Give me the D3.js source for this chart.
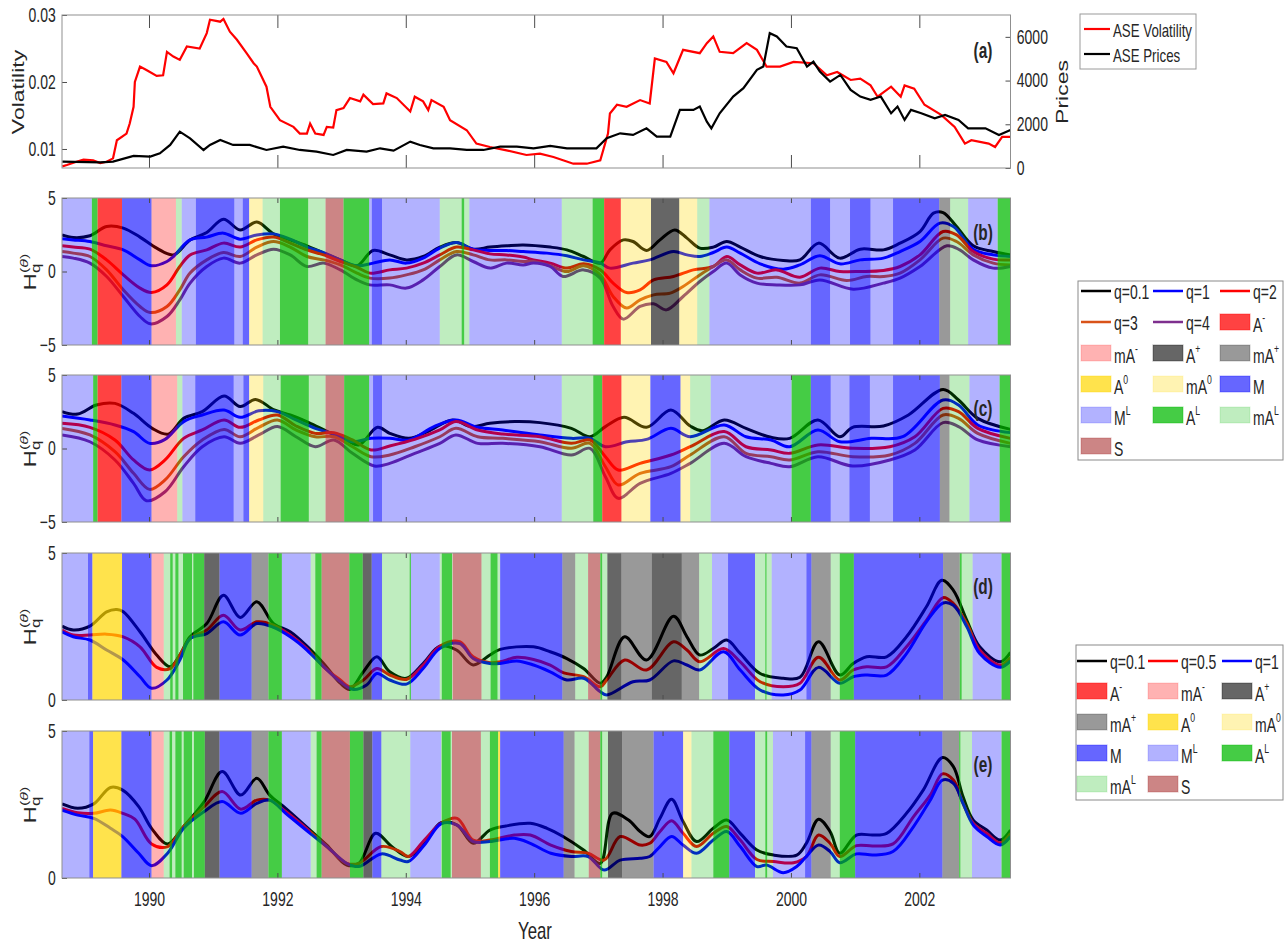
<!DOCTYPE html>
<html>
<head>
<meta charset="utf-8">
<script src="https://cdn.jsdelivr.net/npm/d3@7"></script>
<style>
  body { margin: 0; background: #fff; }
  svg { display: block; }
  text { font-family: "Liberation Sans", Arial, sans-serif; fill: #262626; }
</style>
</head>
<body>
<svg id="fig" width="1285" height="943"></svg>
<script>
// ---------- data ----------
const yearMin = 1988.645, yearMax = 2003.42;
const yearTicks = [1990, 1992, 1994, 1996, 1998, 2000, 2002];

// regime categories: key, base letters, superscript
const catKeys = ['Am', 'mAm', 'Ap', 'mAp', 'A0', 'mA0', 'M', 'ML', 'AL', 'mAL', 'S'];
const catBase = ['A', 'mA', 'A', 'mA', 'A', 'mA', 'M', 'M', 'A', 'mA', 'S'];
const catSup  = ['-', '-', '+', '+', '0', '0', '', 'L', 'L', 'L', ''];

// ASE volatility and prices, panel (a)
const volatility = [[1988.65,0.0074],[1988.72,0.0076],[1988.87,0.0081],[1988.98,0.0084],[1989.13,0.0083],[1989.24,0.0079],[1989.34,0.0081],[1989.44,0.0086],[1989.50,0.0113],[1989.65,0.0123],[1989.70,0.0138],[1989.76,0.0163],[1989.78,0.0200],[1989.86,0.0223],[1989.96,0.0218],[1990.12,0.0209],[1990.22,0.0210],[1990.28,0.0245],[1990.38,0.0238],[1990.48,0.0233],[1990.59,0.0253],[1990.79,0.0250],[1990.90,0.0273],[1990.95,0.0293],[1991.11,0.0290],[1991.16,0.0294],[1991.26,0.0275],[1991.37,0.0263],[1991.52,0.0243],[1991.63,0.0228],[1991.68,0.0223],[1991.83,0.0193],[1991.89,0.0163],[1992.04,0.0143],[1992.25,0.0133],[1992.35,0.0123],[1992.46,0.0123],[1992.51,0.0138],[1992.59,0.0123],[1992.72,0.0121],[1992.77,0.0133],[1992.87,0.0132],[1992.92,0.0158],[1993.03,0.0161],[1993.13,0.0176],[1993.29,0.0171],[1993.34,0.0181],[1993.49,0.0167],[1993.65,0.0168],[1993.70,0.0183],[1993.86,0.0176],[1994.07,0.0156],[1994.14,0.0178],[1994.27,0.0171],[1994.35,0.0158],[1994.40,0.0173],[1994.59,0.0163],[1994.69,0.0143],[1994.95,0.0128],[1995.10,0.0108],[1995.31,0.0103],[1995.57,0.0098],[1995.88,0.0091],[1996.09,0.0093],[1996.30,0.0088],[1996.61,0.0078],[1996.82,0.0078],[1997.03,0.0083],[1997.15,0.0123],[1997.18,0.0153],[1997.29,0.0166],[1997.44,0.0163],[1997.65,0.0173],[1997.80,0.0168],[1997.88,0.0235],[1998.06,0.0230],[1998.17,0.0213],[1998.32,0.0248],[1998.58,0.0243],[1998.69,0.0258],[1998.79,0.0268],[1998.89,0.0245],[1999.10,0.0243],[1999.31,0.0258],[1999.47,0.0248],[1999.62,0.0223],[1999.83,0.0223],[2000.04,0.0230],[2000.35,0.0228],[2000.56,0.0210],[2000.72,0.0215],[2000.93,0.0203],[2001.08,0.0205],[2001.24,0.0195],[2001.35,0.0178],[2001.56,0.0193],[2001.71,0.0178],[2001.77,0.0195],[2001.92,0.0190],[2002.08,0.0166],[2002.34,0.0151],[2002.55,0.0133],[2002.71,0.0108],[2002.81,0.0113],[2003.08,0.0108],[2003.18,0.0103],[2003.29,0.0118],[2003.42,0.0118]];
const prices = [[1988.65,290],[1989.24,260],[1989.44,290],[1989.76,550],[1990.02,520],[1990.17,670],[1990.33,1054],[1990.48,1664],[1990.64,1358],[1990.85,825],[1990.95,1054],[1991.11,1283],[1991.31,1054],[1991.57,1054],[1991.83,825],[1992.09,977],[1992.35,825],[1992.61,748],[1992.87,596],[1993.08,825],[1993.39,748],[1993.60,901],[1993.81,794],[1994.07,1206],[1994.22,1054],[1994.43,901],[1994.69,901],[1994.95,825],[1995.21,825],[1995.47,977],[1995.73,977],[1995.99,901],[1996.25,1008],[1996.51,901],[1996.77,901],[1996.97,901],[1997.13,1358],[1997.34,1588],[1997.54,1512],[1997.75,1817],[1997.91,1435],[1998.12,1435],[1998.27,2657],[1998.48,2657],[1998.58,2810],[1998.69,2123],[1998.76,1817],[1998.89,2504],[1999.10,3268],[1999.26,3650],[1999.47,4489],[1999.57,4642],[1999.67,6169],[1999.78,6016],[1999.93,5558],[2000.09,5482],[2000.25,4642],[2000.35,4871],[2000.45,4413],[2000.61,3955],[2000.77,4260],[2000.93,3573],[2001.08,3268],[2001.24,3115],[2001.40,3268],[2001.56,2504],[2001.66,2810],[2001.77,2199],[2001.87,2657],[2002.03,2504],[2002.24,2275],[2002.40,2428],[2002.61,2199],[2002.76,1817],[2003.03,1817],[2003.24,1512],[2003.42,1741]];

// regime bands: [start year, category]; each band ends where the next begins
const bandsB = [[1988.645,'ML'],[1989.11,'AL'],[1989.20,'Am'],[1989.58,'M'],[1990.04,'mAm'],[1990.42,'mAL'],[1990.51,'ML'],[1990.73,'M'],[1991.33,'ML'],[1991.46,'M'],[1991.56,'mA0'],[1991.77,'mAL'],[1992.04,'AL'],[1992.48,'mAL'],[1992.75,'S'],[1993.03,'AL'],[1993.43,'ML'],[1993.47,'M'],[1993.63,'ML'],[1994.53,'mAL'],[1994.87,'AL'],[1994.91,'mAL'],[1994.99,'ML'],[1996.43,'mAL'],[1996.91,'AL'],[1997.09,'Am'],[1997.35,'mA0'],[1997.82,'Ap'],[1998.26,'mA0'],[1998.54,'mAL'],[1998.73,'ML'],[2000.31,'M'],[2000.61,'ML'],[2000.92,'M'],[2001.24,'ML'],[2001.59,'M'],[2002.31,'mAp'],[2002.48,'mAL'],[2002.76,'ML'],[2003.22,'AL']];
const bandsC = [[1988.645,'ML'],[1989.13,'AL'],[1989.20,'Am'],[1989.57,'M'],[1990.04,'mAm'],[1990.44,'mAL'],[1990.52,'ML'],[1990.72,'M'],[1991.32,'ML'],[1991.47,'M'],[1991.56,'mA0'],[1991.78,'mAL'],[1992.05,'AL'],[1992.49,'mAL'],[1992.75,'S'],[1993.04,'AL'],[1993.43,'ML'],[1993.49,'M'],[1993.63,'ML'],[1996.43,'mAL'],[1996.92,'AL'],[1997.06,'Am'],[1997.36,'mA0'],[1997.81,'M'],[1998.28,'mA0'],[1998.43,'mAL'],[1998.75,'ML'],[2000.01,'AL'],[2000.31,'M'],[2000.62,'ML'],[2000.91,'M'],[2001.23,'ML'],[2001.59,'M'],[2002.32,'mAp'],[2002.47,'mAL'],[2002.78,'ML'],[2003.25,'AL']];
const bandsD = [[1988.645,'ML'],[1989.05,'M'],[1989.12,'A0'],[1989.58,'M'],[1990.04,'mAm'],[1990.23,'mAL'],[1990.33,'AL'],[1990.37,'mAL'],[1990.41,'AL'],[1990.46,'mAL'],[1990.53,'AL'],[1990.67,'mAL'],[1990.69,'AL'],[1990.86,'Ap'],[1991.10,'M'],[1991.60,'mAp'],[1991.86,'AL'],[1992.07,'ML'],[1992.52,'mAL'],[1992.59,'AL'],[1992.69,'S'],[1993.12,'AL'],[1993.33,'Ap'],[1993.47,'M'],[1993.63,'mAL'],[1994.06,'AL'],[1994.08,'ML'],[1994.53,'mAL'],[1994.56,'AL'],[1994.72,'mAL'],[1994.73,'S'],[1995.18,'mAL'],[1995.32,'AL'],[1995.43,'mAL'],[1995.47,'M'],[1996.44,'mAp'],[1996.64,'mAL'],[1996.84,'S'],[1997.03,'AL'],[1997.06,'mAL'],[1997.14,'Ap'],[1997.36,'mAp'],[1997.83,'Ap'],[1998.30,'mAp'],[1998.57,'mAL'],[1998.77,'ML'],[1999.02,'M'],[1999.44,'mAL'],[1999.60,'AL'],[1999.62,'mAL'],[1999.70,'ML'],[2000.24,'M'],[2000.32,'mAp'],[2000.62,'mAL'],[2000.76,'AL'],[2000.98,'M'],[2002.37,'mAp'],[2002.63,'AL'],[2002.66,'mAL'],[2002.83,'ML'],[2003.28,'AL']];
const bandsE = [[1988.645,'ML'],[1989.07,'M'],[1989.13,'A0'],[1989.57,'M'],[1990.04,'mAm'],[1990.23,'mAL'],[1990.32,'AL'],[1990.36,'mAL'],[1990.41,'AL'],[1990.51,'mAL'],[1990.54,'AL'],[1990.67,'mAL'],[1990.70,'AL'],[1990.87,'Ap'],[1991.10,'M'],[1991.60,'mAp'],[1991.86,'AL'],[1992.07,'ML'],[1992.52,'mAL'],[1992.61,'AL'],[1992.69,'S'],[1993.13,'AL'],[1993.34,'Ap'],[1993.48,'M'],[1993.62,'mAL'],[1994.07,'ML'],[1994.55,'mAL'],[1994.56,'AL'],[1994.70,'mAL'],[1994.72,'S'],[1995.17,'mAL'],[1995.31,'AL'],[1995.44,'A0'],[1995.47,'M'],[1996.46,'mAp'],[1996.63,'mAL'],[1996.85,'S'],[1997.03,'AL'],[1997.06,'mAL'],[1997.15,'Ap'],[1997.37,'mAp'],[1997.86,'M'],[1998.32,'mA0'],[1998.45,'mAL'],[1998.79,'AL'],[1999.04,'M'],[1999.44,'mAL'],[1999.60,'AL'],[1999.63,'mAL'],[1999.72,'ML'],[2000.22,'M'],[2000.32,'mAp'],[2000.62,'mAL'],[2000.76,'AL'],[2001.00,'M'],[2002.36,'mAp'],[2002.62,'AL'],[2002.64,'mAL'],[2002.82,'ML'],[2003.28,'AL']];

// generalized Hurst exponents, panel (b)
const hB01 = [[1988.645,2.49],[1988.82,2.31],[1989.08,2.43],[1989.34,3.06],[1989.60,2.95],[1989.86,2.34],[1990.12,1.59],[1990.38,1.13],[1990.64,2.15],[1990.90,2.65],[1991.16,3.56],[1991.42,2.83],[1991.68,3.36],[1991.94,2.56],[1992.20,2.15],[1992.46,1.75],[1992.72,1.25],[1992.98,0.79],[1993.24,0.39],[1993.49,1.43],[1993.75,1.13],[1994.01,0.79],[1994.27,1.02],[1994.53,1.66],[1994.79,1.97],[1995.05,1.52],[1995.31,1.66],[1995.57,1.75],[1995.83,1.81],[1996.25,1.66],[1996.51,1.47],[1996.77,1.02],[1997.03,0.57],[1997.18,1.47],[1997.39,2.15],[1997.54,2.04],[1997.75,1.43],[1997.96,2.15],[1998.19,2.83],[1998.38,2.27],[1998.58,1.59],[1998.79,1.66],[1999.00,2.04],[1999.21,1.66],[1999.52,1.02],[1999.88,0.75],[2000.14,0.79],[2000.43,1.93],[2000.76,0.91],[2001.08,1.52],[2001.44,1.47],[2001.70,1.93],[2002.01,2.72],[2002.22,3.97],[2002.37,4.01],[2002.58,3.06],[2002.84,1.75],[2003.15,1.36],[2003.42,1.13]];
const hB1 = [[1988.645,2.22],[1988.82,2.15],[1989.08,2.04],[1989.34,1.75],[1989.60,1.47],[1989.86,0.79],[1990.04,0.39],[1990.28,0.68],[1990.38,1.02],[1990.64,2.15],[1990.90,2.34],[1991.16,2.61],[1991.42,2.20],[1991.68,2.49],[1991.94,2.56],[1992.20,2.20],[1992.46,1.66],[1992.72,1.29],[1992.98,0.79],[1993.24,0.39],[1993.49,0.57],[1993.75,0.79],[1994.01,0.57],[1994.27,0.91],[1994.53,1.59],[1994.79,1.97],[1995.05,1.52],[1995.31,1.43],[1995.57,1.43],[1995.83,1.36],[1996.20,1.25],[1996.51,1.07],[1996.77,0.79],[1997.03,0.57],[1997.18,0.23],[1997.54,0.57],[1997.80,0.79],[1998.17,1.36],[1998.38,1.13],[1998.58,1.02],[1998.79,1.29],[1999.00,1.66],[1999.21,1.25],[1999.52,0.52],[1999.88,0.16],[2000.14,0.45],[2000.45,1.07],[2000.76,0.52],[2001.08,0.79],[2001.44,0.91],[2001.70,1.36],[2002.01,2.04],[2002.32,3.29],[2002.53,3.06],[2002.84,1.52],[2003.15,1.13],[2003.42,1.02]];
const hB2 = [[1988.645,1.75],[1988.82,1.66],[1989.08,1.52],[1989.34,0.79],[1989.60,-0.23],[1989.86,-1.13],[1990.04,-1.43],[1990.28,-0.91],[1990.48,0.34],[1990.64,1.13],[1990.90,1.47],[1991.16,1.93],[1991.42,1.66],[1991.68,2.15],[1991.94,2.34],[1992.20,1.93],[1992.46,1.47],[1992.72,1.13],[1992.98,0.68],[1993.24,0.29],[1993.44,-0.11],[1993.75,0.11],[1994.01,0.23],[1994.27,0.57],[1994.53,1.13],[1994.79,1.66],[1995.05,1.47],[1995.31,1.20],[1995.57,1.13],[1995.83,0.98],[1995.99,0.79],[1996.25,0.57],[1996.51,0.23],[1996.77,0.52],[1997.03,0.11],[1997.23,-0.79],[1997.44,-1.43],[1997.65,-1.25],[1997.86,-0.57],[1998.17,-0.34],[1998.48,0.11],[1998.79,0.34],[1999.00,1.02],[1999.21,0.45],[1999.47,-0.11],[1999.78,0.11],[2000.14,-0.39],[2000.45,0.23],[2000.76,0],[2001.08,0],[2001.44,0.07],[2001.70,0.34],[2002.01,1.13],[2002.37,2.72],[2002.58,2.49],[2002.84,1.36],[2003.15,0.84],[2003.42,0.79]];
const hB3 = [[1988.645,1.36],[1988.82,1.25],[1989.08,1.02],[1989.34,0.11],[1989.60,-1.25],[1989.86,-2.38],[1990.02,-2.79],[1990.28,-2.38],[1990.48,-1.25],[1990.64,-0.11],[1990.90,0.79],[1991.16,1.29],[1991.42,1.02],[1991.68,1.66],[1991.94,2.04],[1992.20,1.66],[1992.46,1.02],[1992.72,0.79],[1992.98,0.45],[1993.24,-0.11],[1993.44,-0.45],[1993.75,-0.45],[1994.01,-0.23],[1994.27,0.11],[1994.53,0.79],[1994.79,1.36],[1995.05,1.13],[1995.31,0.79],[1995.57,0.79],[1995.83,0.68],[1995.99,0.68],[1996.25,0.39],[1996.51,0],[1996.77,0.39],[1997.03,-0.23],[1997.23,-1.70],[1997.44,-2.49],[1997.65,-1.93],[1997.86,-1.59],[1998.12,-1.47],[1998.32,-1.02],[1998.58,-0.23],[1998.79,0.34],[1999.00,0.79],[1999.21,0.11],[1999.47,-0.45],[1999.78,-0.39],[2000.14,-0.79],[2000.45,-0.23],[2000.87,-0.61],[2001.18,-0.34],[2001.44,-0.34],[2001.70,-0.11],[2002.01,0.79],[2002.37,2.27],[2002.58,2.04],[2002.84,1.13],[2003.15,0.57],[2003.42,0.45]];
const hB4 = [[1988.645,1.02],[1988.82,0.91],[1989.08,0.57],[1989.34,-0.34],[1989.60,-1.70],[1989.86,-3.06],[1990.02,-3.56],[1990.28,-3.06],[1990.48,-1.93],[1990.64,-0.79],[1990.90,0.34],[1991.16,0.91],[1991.42,0.57],[1991.68,1.13],[1991.94,1.52],[1992.20,1.13],[1992.46,0.34],[1992.72,0.57],[1992.98,0.11],[1993.24,-0.57],[1993.44,-0.91],[1993.75,-0.91],[1994.01,-1.13],[1994.27,-0.57],[1994.53,0.34],[1994.79,1.13],[1995.05,0.68],[1995.31,0.23],[1995.57,0.57],[1995.83,0.45],[1995.99,0.57],[1996.25,0.34],[1996.45,-0.34],[1996.77,0.11],[1997.03,-0.45],[1997.23,-2.38],[1997.39,-3.24],[1997.65,-2.38],[1997.86,-2.20],[1998.06,-2.61],[1998.32,-1.70],[1998.58,-0.68],[1998.79,0],[1999.00,0.57],[1999.21,-0.23],[1999.47,-0.79],[1999.78,-0.91],[2000.14,-0.91],[2000.45,-0.57],[2000.97,-1.20],[2001.44,-0.79],[2001.70,-0.45],[2002.01,0.34],[2002.43,1.75],[2002.63,1.47],[2002.84,0.79],[2003.15,0.23],[2003.42,0.34]];

// panel (c)
const hC01 = [[1988.645,2.51],[1988.89,2.34],[1989.18,2.96],[1989.47,3.07],[1989.76,2.39],[1990.05,1.37],[1990.30,0.98],[1990.54,2.05],[1990.83,2.51],[1991.17,3.57],[1991.42,2.85],[1991.66,3.34],[1991.95,2.62],[1992.20,2.28],[1992.49,1.76],[1992.78,1.15],[1993.07,0.58],[1993.27,0.24],[1993.56,1.44],[1993.75,1.03],[1994.05,0.69],[1994.34,1.15],[1994.73,1.94],[1995.02,1.49],[1995.31,1.71],[1995.70,1.83],[1996.09,1.76],[1996.58,1.37],[1996.87,0.80],[1997.11,1.49],[1997.40,2.12],[1997.75,1.44],[1998.13,2.62],[1998.43,1.53],[1998.62,1.21],[1998.96,1.94],[1999.30,1.37],[1999.69,0.76],[1999.98,0.69],[2000.42,1.94],[2000.76,0.80],[2000.96,1.44],[2001.44,1.53],[2001.83,2.28],[2002.37,4.02],[2002.61,3.30],[2002.91,2.05],[2003.42,1.30]];
const hC1 = [[1988.645,2.21],[1989.08,1.94],[1989.47,1.60],[1989.76,1.15],[1990.01,0.35],[1990.25,0.62],[1990.54,1.83],[1990.83,2.28],[1991.17,2.62],[1991.42,2.12],[1991.71,2.57],[1992.00,2.51],[1992.29,1.94],[1992.59,1.37],[1992.88,0.98],[1993.17,0.46],[1993.46,0.69],[1993.75,0.69],[1994.05,0.58],[1994.44,1.49],[1994.78,1.94],[1995.12,1.44],[1995.51,1.26],[1996.09,0.92],[1996.58,0.69],[1996.87,0.69],[1997.11,0.12],[1997.45,0.46],[1997.75,0.62],[1998.13,1.37],[1998.43,0.80],[1998.96,1.60],[1999.30,0.80],[1999.69,0.58],[1999.98,0.12],[2000.42,1.26],[2000.76,0.46],[2001.25,0.69],[2001.74,0.80],[2002.37,3.30],[2002.61,2.96],[2002.91,1.60],[2003.42,1.08]];
const hC2 = [[1988.645,1.71],[1989.08,1.44],[1989.47,0.58],[1989.76,-0.78],[1990.01,-1.46],[1990.25,-0.78],[1990.54,0.69],[1990.83,1.26],[1991.17,1.94],[1991.42,1.44],[1991.71,1.94],[1992.00,2.28],[1992.29,1.53],[1992.59,1.03],[1992.88,1.08],[1993.17,0.58],[1993.46,-0.10],[1993.75,0.17],[1994.14,0.62],[1994.53,1.26],[1994.78,1.83],[1995.12,1.26],[1995.51,0.98],[1996.09,0.80],[1996.58,0.35],[1996.87,0.58],[1997.11,-0.56],[1997.31,-1.46],[1997.65,-1.01],[1998.13,-0.44],[1998.43,0.12],[1998.96,1.15],[1999.30,0.12],[1999.69,-0.10],[1999.98,-0.33],[2000.42,0.24],[2000.96,0.01],[2001.54,0.12],[2001.93,0.80],[2002.37,2.73],[2002.61,2.51],[2002.91,1.37],[2003.42,0.69]];
const hC3 = [[1988.645,1.37],[1989.08,0.92],[1989.47,-0.22],[1989.76,-1.69],[1990.01,-2.78],[1990.25,-2.14],[1990.54,-0.56],[1990.83,0.58],[1991.17,1.30],[1991.42,0.80],[1991.71,1.44],[1992.00,1.94],[1992.29,1.26],[1992.59,0.80],[1992.88,0.80],[1993.17,0.12],[1993.46,-0.56],[1993.75,-0.44],[1994.14,0.12],[1994.53,0.80],[1994.78,1.37],[1995.12,0.80],[1995.51,0.69],[1996.09,0.46],[1996.58,0.01],[1996.87,0.35],[1997.11,-1.24],[1997.31,-2.48],[1997.65,-1.69],[1998.13,-1.24],[1998.43,-0.44],[1998.96,0.80],[1999.30,-0.33],[1999.69,-0.56],[1999.98,-0.78],[2000.42,-0.22],[2000.96,-0.56],[2001.54,-0.44],[2001.93,0.35],[2002.37,2.28],[2002.61,2.05],[2002.91,1.03],[2003.42,0.35]];
const hC4 = [[1988.645,0.92],[1989.08,0.46],[1989.47,-0.78],[1989.76,-2.37],[1989.96,-3.55],[1990.25,-2.94],[1990.54,-1.24],[1990.83,0.12],[1991.17,0.80],[1991.42,0.35],[1991.71,0.92],[1992.00,1.49],[1992.29,0.80],[1992.59,0.12],[1992.88,0.58],[1993.17,-0.33],[1993.51,-1.19],[1993.75,-1.01],[1994.14,-0.33],[1994.53,0.35],[1994.78,0.92],[1995.12,0.35],[1995.51,0.35],[1996.09,0.12],[1996.58,-0.44],[1996.87,0.01],[1997.11,-1.92],[1997.31,-3.39],[1997.65,-2.37],[1998.13,-1.69],[1998.43,-1.01],[1998.96,0.35],[1999.30,-0.56],[1999.69,-1.01],[1999.98,-1.24],[2000.42,-0.56],[2000.96,-1.19],[2001.54,-0.78],[2001.93,-0.10],[2002.37,1.76],[2002.61,1.49],[2002.91,0.58],[2003.42,0.12]];

// panel (d)
const hD01 = [[1988.645,2.51],[1988.82,2.38],[1989.08,2.51],[1989.34,3.00],[1989.50,3.08],[1989.60,3.00],[1989.86,2.32],[1990.12,1.53],[1990.33,1.13],[1990.48,1.53],[1990.64,2.15],[1990.90,2.60],[1991.16,3.56],[1991.42,2.81],[1991.68,3.34],[1991.94,2.60],[1992.20,2.32],[1992.46,1.83],[1992.72,1.24],[1992.98,0.57],[1993.13,0.36],[1993.34,0.96],[1993.55,1.47],[1993.75,0.96],[1994.01,0.74],[1994.27,1.24],[1994.53,1.83],[1994.79,1.70],[1995.05,1.19],[1995.31,1.53],[1995.47,1.72],[1995.99,1.81],[1996.25,1.64],[1996.51,1.41],[1996.77,1.07],[1997.03,0.57],[1997.13,0.79],[1997.41,2.15],[1997.75,1.36],[1998.17,2.85],[1998.38,2.15],[1998.58,1.53],[1998.79,1.75],[1999.00,2.04],[1999.21,1.58],[1999.52,0.90],[1999.88,0.74],[2000.14,0.77],[2000.43,1.98],[2000.76,0.85],[2000.97,1.24],[2001.18,1.47],[2001.49,1.47],[2001.80,2.15],[2002.11,3.17],[2002.35,4.07],[2002.53,3.73],[2002.74,2.71],[2002.94,1.81],[2003.26,1.30],[2003.42,1.62]];
const hD05 = [[1988.645,2.38],[1988.82,2.21],[1989.08,2.21],[1989.34,2.24],[1989.60,2.15],[1989.86,1.81],[1990.12,1.11],[1990.33,1.07],[1990.48,1.53],[1990.64,2.09],[1990.90,2.38],[1991.16,2.88],[1991.42,2.38],[1991.68,2.66],[1991.94,2.55],[1992.20,2.21],[1992.46,1.75],[1992.72,1.13],[1992.98,0.68],[1993.13,0.45],[1993.34,0.68],[1993.55,1.07],[1993.75,0.85],[1994.01,0.70],[1994.27,1.19],[1994.53,1.83],[1994.84,1.98],[1995.05,1.47],[1995.31,1.27],[1995.47,1.30],[1995.73,1.45],[1995.99,1.38],[1996.25,1.19],[1996.45,0.93],[1996.77,0.79],[1997.03,0.45],[1997.13,0.68],[1997.41,1.36],[1997.75,1.02],[1998.17,1.98],[1998.38,1.70],[1998.58,1.30],[1998.95,1.75],[1999.21,1.30],[1999.52,0.62],[1999.88,0.45],[2000.14,0.57],[2000.43,1.45],[2000.76,0.68],[2000.97,1.02],[2001.18,1.13],[2001.49,1.13],[2001.80,1.81],[2002.11,2.71],[2002.37,3.48],[2002.53,3.28],[2002.74,2.60],[2002.94,1.70],[2003.26,1.19],[2003.42,1.45]];
const hD1 = [[1988.645,2.32],[1988.82,2.15],[1989.08,2.04],[1989.34,1.70],[1989.60,1.36],[1989.86,0.79],[1990.04,0.40],[1990.28,0.68],[1990.48,1.36],[1990.64,2.09],[1990.90,2.26],[1991.16,2.66],[1991.42,2.21],[1991.68,2.60],[1991.94,2.47],[1992.20,2.15],[1992.46,1.70],[1992.72,1.13],[1992.98,0.62],[1993.18,0.36],[1993.39,0.51],[1993.55,0.90],[1993.75,0.68],[1994.01,0.54],[1994.27,1.07],[1994.53,1.75],[1994.84,1.92],[1995.05,1.41],[1995.31,1.24],[1995.47,1.24],[1995.73,1.33],[1995.99,1.19],[1996.25,0.96],[1996.51,0.68],[1996.77,0.74],[1997.03,0.28],[1997.13,0.17],[1997.54,0.62],[1997.80,0.68],[1998.17,1.33],[1998.38,1.19],[1998.58,1.02],[1998.95,1.64],[1999.21,1.02],[1999.52,0.34],[1999.88,0.17],[2000.14,0.34],[2000.43,1.11],[2000.76,0.57],[2000.97,0.79],[2001.18,0.85],[2001.49,0.85],[2001.80,1.58],[2002.11,2.66],[2002.37,3.30],[2002.53,3.22],[2002.74,2.49],[2002.94,1.58],[2003.26,1.11],[2003.42,1.33]];

// panel (e)
const hE01 = [[1988.645,2.52],[1988.89,2.37],[1989.14,2.52],[1989.40,3.08],[1989.59,2.99],[1989.84,2.43],[1990.04,1.69],[1990.29,1.16],[1990.54,1.75],[1990.86,2.60],[1991.14,3.62],[1991.43,2.82],[1991.68,3.39],[1991.88,2.82],[1992.13,2.37],[1992.51,1.63],[1992.77,1.12],[1993.08,0.44],[1993.27,0.50],[1993.53,1.52],[1993.78,1.07],[1994.04,0.73],[1994.29,1.18],[1994.55,1.88],[1994.80,1.80],[1995.05,1.18],[1995.31,1.63],[1995.56,1.77],[1995.94,1.86],[1996.20,1.69],[1996.45,1.41],[1996.77,0.95],[1997.03,0.50],[1997.22,2.20],[1997.47,1.97],[1997.65,1.58],[1997.80,1.41],[1997.96,2.03],[1998.14,2.68],[1998.32,1.92],[1998.53,1.24],[1998.79,1.69],[1999.00,1.97],[1999.21,1.52],[1999.47,0.95],[1999.73,0.78],[2000.09,0.78],[2000.24,1.18],[2000.43,2.00],[2000.61,1.58],[2000.76,0.84],[2001.02,1.46],[2001.28,1.46],[2001.49,1.52],[2001.80,2.20],[2002.06,2.99],[2002.36,4.10],[2002.53,3.79],[2002.68,2.77],[2002.84,1.97],[2003.05,1.63],[2003.26,1.29],[2003.42,1.63]];
const hE05 = [[1988.645,2.37],[1988.89,2.22],[1989.14,2.20],[1989.40,2.31],[1989.59,2.20],[1989.78,2.00],[1990.04,1.16],[1990.29,1.07],[1990.54,1.75],[1990.86,2.43],[1991.14,2.94],[1991.43,2.34],[1991.68,2.65],[1991.88,2.65],[1992.13,2.26],[1992.51,1.58],[1992.77,1.07],[1993.08,0.50],[1993.27,0.50],[1993.62,1.07],[1993.91,0.90],[1994.04,0.73],[1994.29,1.29],[1994.55,1.86],[1994.80,2.03],[1995.05,1.29],[1995.31,1.29],[1995.69,1.46],[1995.94,1.46],[1996.26,1.12],[1996.58,0.90],[1996.84,0.84],[1997.09,0.61],[1997.34,1.41],[1997.65,1.12],[1997.80,1.18],[1997.96,1.58],[1998.14,1.95],[1998.32,1.52],[1998.53,1.07],[1998.79,1.52],[1999.00,1.75],[1999.21,1.29],[1999.47,0.63],[1999.73,0.56],[2000.04,0.52],[2000.24,0.73],[2000.43,1.46],[2000.61,1.18],[2000.76,0.73],[2001.02,1.10],[2001.28,1.09],[2001.59,1.16],[2001.91,2.09],[2002.17,2.82],[2002.36,3.54],[2002.53,3.33],[2002.68,2.54],[2002.84,1.86],[2003.05,1.52],[2003.26,1.20],[2003.42,1.52]];
const hE1 = [[1988.645,2.31],[1988.89,2.14],[1989.14,2.03],[1989.40,1.69],[1989.59,1.41],[1989.84,0.84],[1990.04,0.42],[1990.29,0.84],[1990.54,1.69],[1990.86,2.26],[1991.14,2.60],[1991.43,2.20],[1991.68,2.54],[1991.88,2.65],[1992.13,2.20],[1992.51,1.52],[1992.77,1.07],[1993.08,0.50],[1993.27,0.39],[1993.62,0.82],[1993.91,0.61],[1994.04,0.56],[1994.29,1.12],[1994.55,1.84],[1994.80,1.80],[1995.05,1.24],[1995.31,1.24],[1995.69,1.35],[1995.94,1.18],[1996.26,0.84],[1996.58,0.73],[1996.84,0.73],[1997.09,0.27],[1997.34,0.61],[1997.65,0.67],[1997.80,0.73],[1997.96,1.07],[1998.14,1.41],[1998.32,1.12],[1998.53,0.84],[1998.79,1.29],[1999.00,1.58],[1999.21,1.07],[1999.47,0.39],[1999.62,0.44],[1999.88,0.18],[2000.09,0.39],[2000.24,0.73],[2000.43,1.12],[2000.61,0.90],[2000.76,0.52],[2001.02,0.82],[2001.28,0.78],[2001.59,0.90],[2001.91,1.75],[2002.17,2.65],[2002.36,3.33],[2002.53,3.22],[2002.68,2.54],[2002.84,1.80],[2003.05,1.41],[2003.26,1.12],[2003.42,1.41]];

// q values
const qLabelsBC = ['q=0.1', 'q=1', 'q=2', 'q=3', 'q=4'];
const qLabelsDE = ['q=0.1', 'q=0.5', 'q=1'];

// ---------- styles ----------
const qColorsBC = ['#000000', '#0000ff', '#ff0000', '#d95319', '#7e2f8e'];
const qColorsDE = ['#000000', '#ff0000', '#0000ff'];
// regime patches are translucent and sit on top of the curves
const catFill  = ['#ff0000', '#ff0000', '#000000', '#000000', '#ffd700', '#ffd700',
                  '#0000ff', '#0000ff', '#00b900', '#00b900', '#aa3333'];
const catAlpha = [0.74, 0.30, 0.60, 0.40, 0.70, 0.30, 0.60, 0.30, 0.73, 0.25, 0.60];

// ---------- drawing ----------
const svg = d3.select('#fig');
const SQ = 0.7;   // the figure text is horizontally squeezed
const ci = k => catKeys.indexOf(k);

const x = d3.scaleLinear().domain([yearMin, yearMax]).range([62, 1010.5]);

function addText(g, px, py, str, size, anchor, rotate, weight) {
  const t = g.append('text')
    .attr('transform', 'translate(' + px + ',' + py + ') scale(' + SQ + ',1)' + (rotate ? ' rotate(-90)' : ''))
    .attr('font-size', size)
    .attr('text-anchor', anchor || 'start')
    .attr('dominant-baseline', 'central');
  if (weight) t.attr('font-weight', weight);
  t.text(str);
  return t;
}

function catText(g, px, py, k, size) {
  const i = ci(k);
  const t = g.append('text')
    .attr('transform', 'translate(' + px + ',' + py + ') scale(' + SQ + ',1)')
    .attr('font-size', size)
    .attr('dominant-baseline', 'central');
  t.append('tspan').text(catBase[i]);
  if (catSup[i]) t.append('tspan').attr('font-size', size * 0.62).attr('dy', -size * 0.38).text(catSup[i]);
}

function hLabel(g, cx, cy) {
  const t = g.append('text')
    .attr('transform', 'translate(' + cx + ',' + cy + ') scale(' + SQ + ',1) rotate(-90)')
    .attr('font-size', 24);
  t.append('tspan').attr('x', -19).attr('y', 0).text('H');
  t.append('tspan').attr('x', -1.5).attr('y', 6).attr('font-size', 17).text('q');
  const s = t.append('tspan').attr('x', -1.5).attr('y', -11).attr('font-size', 16);
  s.append('tspan').text('(');
  s.append('tspan').attr('font-style', 'italic').text('\u03B8');
  s.append('tspan').text(')');
}

function styleAxis(g) {
  g.select('.domain').remove();
  g.selectAll('.tick line').attr('stroke', '#4d4d4d');
  g.selectAll('.tick text')
    .attr('font-family', '"Liberation Sans", Arial, sans-serif')
    .attr('font-size', 20).attr('fill', '#262626');
}

const panels = [
  { top: 198, bottom: 345, dom: [-5, 5], ticks: [-5, 0, 5], bands: bandsB, series: [hB01, hB1, hB2, hB3, hB4], colors: qColorsBC, tag: '(b)', tagY: 232 },
  { top: 375, bottom: 522, dom: [-5, 5], ticks: [-5, 0, 5], bands: bandsC, series: [hC01, hC1, hC2, hC3, hC4], colors: qColorsBC, tag: '(c)', tagY: 408 },
  { top: 553, bottom: 700, dom: [0, 5], ticks: [0, 5], bands: bandsD, series: [hD01, hD05, hD1], colors: qColorsDE, tag: '(d)', tagY: 586 },
  { top: 731, bottom: 878, dom: [0, 5], ticks: [0, 5], bands: bandsE, series: [hE01, hE05, hE1], colors: qColorsDE, tag: '(e)', tagY: 764 }
];

const defs = svg.append('defs');

panels.forEach((p, pi) => {
  const y = d3.scaleLinear().domain(p.dom).range([p.bottom, p.top]);
  const g = svg.append('g');

  // curves first
  defs.append('clipPath').attr('id', 'clip' + pi).append('rect')
    .attr('x', x(yearMin)).attr('y', p.top).attr('width', x(yearMax) - x(yearMin)).attr('height', p.bottom - p.top);
  const line = d3.line().x(d => x(d[0])).y(d => y(d[1])).curve(d3.curveCatmullRom.alpha(0.5));
  const lg = g.append('g').attr('clip-path', 'url(#clip' + pi + ')');
  p.series.forEach((s, si) => {
    lg.append('path').datum(s).attr('d', line)
      .attr('fill', 'none').attr('stroke', p.colors[si])
      .attr('stroke-width', 3).attr('stroke-linejoin', 'round');
  });

  // translucent regime bands over the curves
  g.selectAll('rect.band').data(p.bands).enter().append('rect')
    .attr('class', 'band')
    .attr('x', d => x(d[0]))
    .attr('width', (d, i) => x(i + 1 < p.bands.length ? p.bands[i + 1][0] : yearMax) - x(d[0]))
    .attr('y', p.top).attr('height', p.bottom - p.top)
    .attr('fill', d => catFill[ci(d[1])])
    .attr('fill-opacity', d => catAlpha[ci(d[1])]);

  // axes
  g.append('g').attr('transform', 'translate(0,' + p.top + ')')
    .call(d3.axisTop(x).tickValues(yearTicks).tickSize(-5).tickFormat(''))
    .call(styleAxis);
  const bx = g.append('g').attr('transform', 'translate(0,' + p.bottom + ')')
    .call(d3.axisBottom(x).tickValues(yearTicks).tickSize(-5).tickPadding(14).tickFormat(pi == 3 ? d3.format('d') : ''))
    .call(styleAxis);
  bx.selectAll('.tick text').attr('transform', 'scale(' + SQ + ',1)');
  const ly = g.append('g').attr('transform', 'translate(' + x(yearMin) + ',0)')
    .call(d3.axisLeft(y).tickValues(p.ticks).tickSize(-5).tickPadding(9).tickFormat(d3.format('d')))
    .call(styleAxis);
  ly.selectAll('.tick text').attr('transform', 'scale(' + SQ + ',1)');

  g.append('rect').attr('x', x(yearMin)).attr('y', p.top)
    .attr('width', x(yearMax) - x(yearMin)).attr('height', p.bottom - p.top)
    .attr('fill', 'none').attr('stroke', '#8f8f8f').attr('stroke-width', 1);

  addText(g, 983, p.tagY, p.tag, 22, 'middle', false, 'bold');
  hLabel(g, 36, (p.top + p.bottom) / 2);
});

// ---------- panel (a) ----------
(function () {
  const top = 15, bottom = 168;
  const yv = d3.scaleLinear().domain([0.00716, 0.03]).range([bottom, top]);
  const yp = d3.scaleLinear().domain([0, 7000]).range([bottom, top]);
  const g = svg.append('g');

  g.append('g').attr('transform', 'translate(0,' + top + ')')
    .call(d3.axisTop(x).tickValues(yearTicks).tickSize(-13).tickFormat(''))
    .call(styleAxis);
  g.append('g').attr('transform', 'translate(0,' + bottom + ')')
    .call(d3.axisBottom(x).tickValues(yearTicks).tickSize(-13).tickFormat(''))
    .call(styleAxis);
  const la = g.append('g').attr('transform', 'translate(' + x(yearMin) + ',0)')
    .call(d3.axisLeft(yv).tickValues([0.01, 0.02, 0.03]).tickSize(-5).tickPadding(9).tickFormat(d3.format('.2f')))
    .call(styleAxis);
  la.selectAll('.tick text').attr('transform', 'scale(' + SQ + ',1)');
  const ra = g.append('g').attr('transform', 'translate(' + x(yearMax) + ',0)')
    .call(d3.axisRight(yp).tickValues([0, 2000, 4000, 6000]).tickSize(-5).tickPadding(9).tickFormat(d3.format('d')))
    .call(styleAxis);
  ra.selectAll('.tick text').attr('transform', 'scale(' + SQ + ',1)');

  g.append('path').datum(volatility)
    .attr('d', d3.line().x(d => x(d[0])).y(d => yv(d[1])))
    .attr('fill', 'none').attr('stroke', '#ff0000').attr('stroke-width', 2.2);
  g.append('path').datum(prices)
    .attr('d', d3.line().x(d => x(d[0])).y(d => yp(d[1])))
    .attr('fill', 'none').attr('stroke', '#000000').attr('stroke-width', 2.2);

  g.append('rect').attr('x', x(yearMin)).attr('y', top)
    .attr('width', x(yearMax) - x(yearMin)).attr('height', bottom - top)
    .attr('fill', 'none').attr('stroke', '#8f8f8f');

  addText(g, 983, 50, '(a)', 22, 'middle', false, 'bold');
  addText(g, 18, 92, 'Volatility', 23, 'middle', true);
  addText(g, 1062, 92, 'Prices', 23, 'middle', true);

  // legend (a)
  const lg = svg.append('g');
  lg.append('rect').attr('x', 1080).attr('y', 14).attr('width', 116).attr('height', 55)
    .attr('fill', '#fff').attr('stroke', '#9a9a9a');
  [['ASE Volatility', '#ff0000', 29], ['ASE Prices', '#000000', 54]].forEach(r => {
    lg.append('line').attr('x1', 1084).attr('x2', 1110).attr('y1', r[2]).attr('y2', r[2])
      .attr('stroke', r[1]).attr('stroke-width', 2.2);
    addText(lg, 1113, r[2] + 1, r[0], 19);
  });
})();

// x label
addText(svg, 535, 930, 'Year', 24, 'middle');

// ---------- legends for (b)-(e) ----------
function legend(box, cols, rows, items) {
  const g = svg.append('g');
  g.append('rect').attr('x', box[0]).attr('y', box[1]).attr('width', box[2]).attr('height', box[3])
    .attr('fill', '#fff').attr('stroke', '#8a8a8a');
  items.forEach((it, i) => {
    const cx = cols[i % 3], cy = rows[Math.floor(i / 3)];
    if (it.type == 'line') {
      g.append('line').attr('x1', cx).attr('x2', cx + 30).attr('y1', cy).attr('y2', cy)
        .attr('stroke', it.color).attr('stroke-width', 2.5);
      addText(g, cx + 33, cy + 1, it.label, 20);
    } else {
      const k = ci(it.key);
      g.append('rect').attr('x', cx).attr('y', cy - 8).attr('width', 30).attr('height', 16)
        .attr('fill', catFill[k]).attr('fill-opacity', catAlpha[k])
        .attr('stroke', catFill[k]).attr('stroke-opacity', catAlpha[k] * 0.45).attr('stroke-width', 1.2);
      catText(g, cx + 33, cy + 3, it.key, 20);
    }
  });
}

const legendCats = ['Am', 'mAm', 'Ap', 'mAp', 'A0', 'mA0', 'M', 'ML', 'AL', 'mAL', 'S'];
legend([1078, 281, 205, 179], [1081, 1153, 1220], [291, 322, 353, 384, 415, 446],
  qLabelsBC.map((l, i) => ({ type: 'line', label: l, color: qColorsBC[i] }))
    .concat(legendCats.map(k => ({ type: 'cat', key: k }))));
legend([1076, 645, 207, 155], [1077, 1148, 1222], [661, 691, 722, 753, 784],
  qLabelsDE.map((l, i) => ({ type: 'line', label: l, color: qColorsDE[i] }))
    .concat(legendCats.map(k => ({ type: 'cat', key: k }))));
</script>
</body>
</html>
